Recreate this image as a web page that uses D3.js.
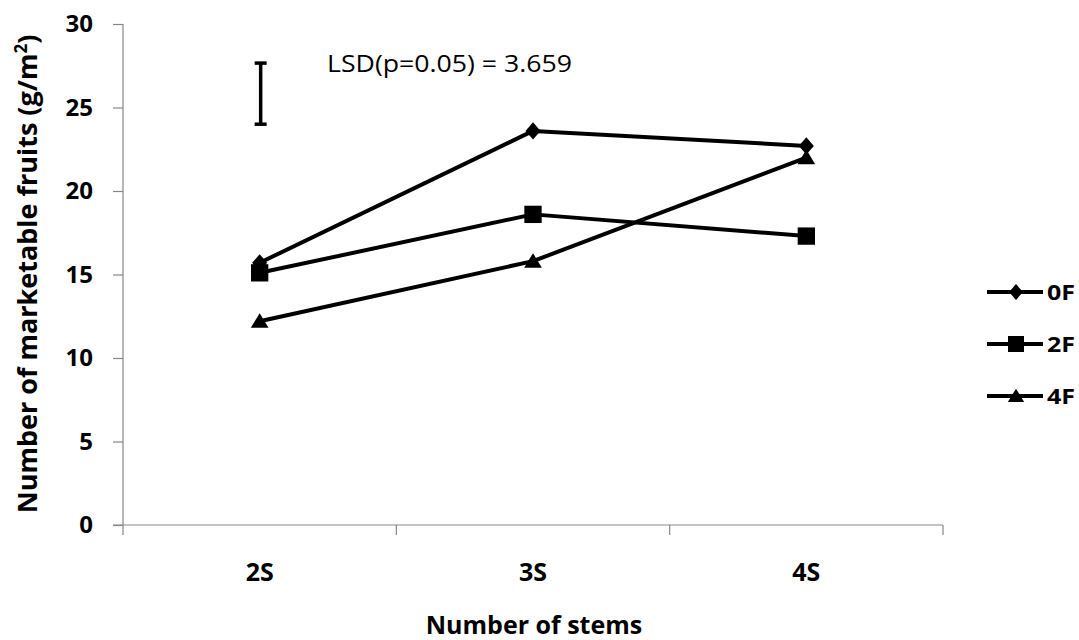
<!DOCTYPE html>
<html><head><meta charset="utf-8">
<script src="https://cdn.jsdelivr.net/npm/d3@7"></script>
<style>body{margin:0;background:#fff}svg{display:block}</style>
</head><body>
<svg id="c" width="1079" height="640"></svg>
<script>
const categories = ["2S","3S","4S"];
const seriesNames = ["0F","2F","4F"];
const values0F = [15.7, 23.6, 22.7];
const values2F = [15.1, 18.6, 17.3];
const values4F = [12.2, 15.8, 22.0];
const yTicks = [0,5,10,15,20,25,30];
const lsdLow = 24.0, lsdValue = 3.659;
const lsdLabel = "LSD(p=0.05) = 3.659";

const svg = d3.select("#c");
const font = "'Open Sans', 'Noto Sans', sans-serif";
const pL = 123, pR = 943, pT = 24, pB = 525;
const axisColor = "#878787";
const x = d3.scaleBand().domain(categories).range([pL, pR]);
const y = d3.scaleLinear().domain([0,30]).range([pB, pT]);
const cx = c => x(c) + x.bandwidth()/2;

// custom symbols
const diamond = {draw(ctx, s){ const w = Math.sqrt(s)/2*1.0, h = Math.sqrt(s)/2*1.15;
  ctx.moveTo(0,-h); ctx.lineTo(w,0); ctx.lineTo(0,h); ctx.lineTo(-w,0); ctx.closePath(); }};
const square = {draw(ctx, s){ const r = Math.sqrt(s)/2; ctx.rect(-r,-r,2*r,2*r); }};
const triangle = {draw(ctx, s){ const b = Math.sqrt(s)/2*1.1, h = Math.sqrt(s)*0.9;
  ctx.moveTo(0,-h*0.55); ctx.lineTo(b,h*0.45); ctx.lineTo(-b,h*0.45); ctx.closePath(); }};

// y axis
const ya = svg.append("g").attr("transform", `translate(${pL},0)`)
  .call(d3.axisLeft(y).tickValues(yTicks).tickSize(10).tickPadding(20));
ya.selectAll("path,line").attr("stroke",axisColor).attr("stroke-width",1.2);
ya.select("path").attr("d", `M0,${pT}V${pB}`);
ya.selectAll("text").attr("font-family",font).attr("font-size",24).attr("font-weight","bold").attr("fill","#000");

// x axis
const xa = svg.append("g").attr("transform", `translate(0,${pB})`)
  .call(d3.axisBottom(x).tickSize(0).tickPadding(38));
xa.select("path").attr("stroke",axisColor).attr("stroke-width",1.2).attr("d", `M${pL-10},0H${pR}`);
xa.selectAll("text").attr("font-family",font).attr("font-size",25).attr("font-weight","bold").attr("fill","#000");
const xTickPos = [pL, ...categories.map(c => x(c) + x.bandwidth())];
xa.selectAll("line.sep").data(xTickPos).enter().append("line").attr("class","sep")
  .attr("x1",d=>d).attr("x2",d=>d).attr("y1",0).attr("y2",10).attr("stroke",axisColor).attr("stroke-width",1.2);

// titles
svg.append("text").attr("transform", `translate(37,274) rotate(-90)`)
  .attr("text-anchor","middle").attr("font-family",font).attr("font-size",27).attr("font-weight","bold")
  .html("Number of marketable fruits (g/m<tspan dy='-10' font-size='17'>2</tspan><tspan dy='10'>)</tspan>");
svg.append("text").attr("x", 534).attr("y", 634).attr("text-anchor","middle")
  .attr("font-family",font).attr("font-size",25).attr("font-weight","bold").text("Number of stems");

// LSD bar
const lx = cx("2S") + 1;
const lsd = svg.append("g").attr("stroke","#000").attr("stroke-width",3.5);
lsd.append("line").attr("x1",lx).attr("x2",lx).attr("y1",y(lsdLow)).attr("y2",y(lsdLow+lsdValue));
lsd.append("line").attr("x1",lx-6).attr("x2",lx+6).attr("y1",y(lsdLow)).attr("y2",y(lsdLow));
lsd.append("line").attr("x1",lx-6).attr("x2",lx+6).attr("y1",y(lsdLow+lsdValue)).attr("y2",y(lsdLow+lsdValue));
svg.append("text").attr("x",327).attr("y",72).attr("font-family",font).attr("font-size",23)
  .attr("textLength",245).attr("lengthAdjust","spacingAndGlyphs").attr("fill","#000").text(lsdLabel);

// series
const series = [
  {name: seriesNames[0], vals: values0F, sym: diamond, size: 225},
  {name: seriesNames[1], vals: values2F, sym: square, size: 300},
  {name: seriesNames[2], vals: values4F, sym: triangle, size: 260}
];
const line = d3.line().x((d,i)=>cx(categories[i])).y(d=>y(d));
series.forEach(s => {
  svg.append("path").attr("d", line(s.vals)).attr("fill","none").attr("stroke","#000")
    .attr("stroke-width",4).attr("stroke-linejoin","round");
});
series.forEach(s => {
  svg.selectAll(null).data(s.vals).enter().append("path")
    .attr("d", d3.symbol().type(s.sym).size(s.size))
    .attr("transform",(d,i)=>`translate(${cx(categories[i])},${y(d)})`)
    .attr("fill","#000");
});

// legend
const legY = [292, 344, 396];
series.forEach((s,i) => {
  const g = svg.append("g").attr("transform", `translate(987,${legY[i]})`);
  g.append("line").attr("x1",0).attr("x2",56).attr("stroke","#000").attr("stroke-width",4);
  g.append("path").attr("d", d3.symbol().type(s.sym).size(s.size*0.85)).attr("transform","translate(29,0)").attr("fill","#000");
  g.append("text").attr("x",60).attr("y",8).attr("font-family",font).attr("font-size",21).attr("font-weight","bold")
    .attr("textLength",28).attr("lengthAdjust","spacingAndGlyphs").text(s.name);
});
</script>
</body></html>
